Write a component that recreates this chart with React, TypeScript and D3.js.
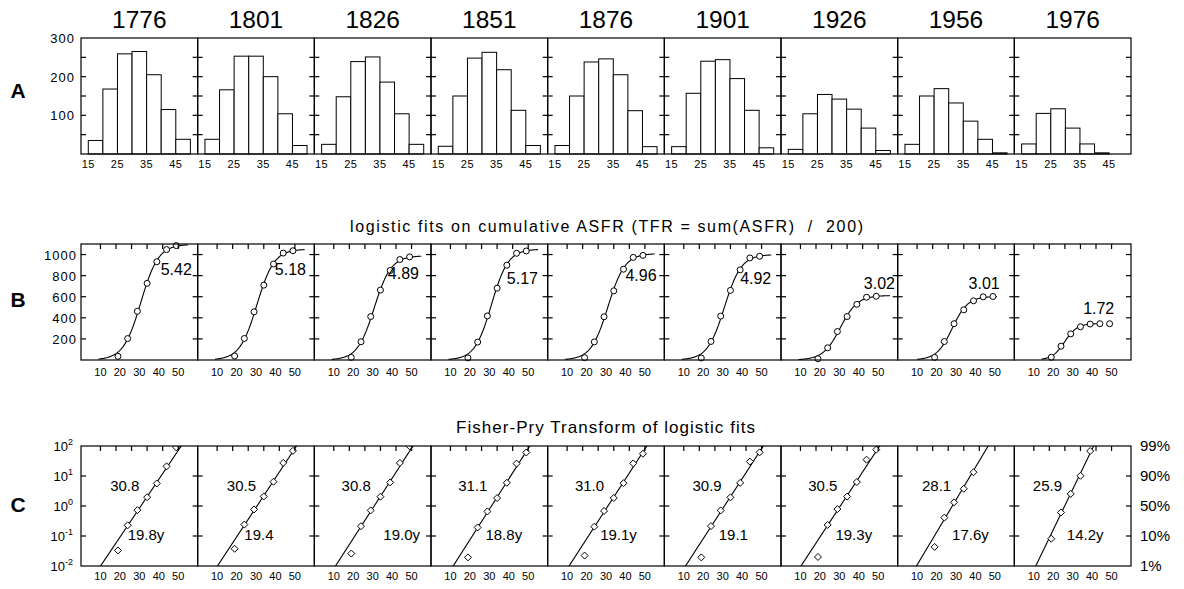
import React from 'react';
import * as d3 from 'd3';

// ---------- data ----------
const years = ['1776', '1801', '1826', '1851', '1876', '1901', '1926', '1956', '1976'];
const ageGroupStarts = [15, 20, 25, 30, 35, 40, 45];

const asfr1776 = [35, 168, 259, 265, 205, 115, 38];
const asfr1801 = [38, 166, 253, 253, 200, 104, 22];
const asfr1826 = [25, 148, 239, 251, 186, 104, 25];
const asfr1851 = [20, 150, 248, 263, 218, 113, 22];
const asfr1876 = [22, 150, 238, 246, 205, 112, 19];
const asfr1901 = [19, 157, 240, 244, 195, 113, 16];
const asfr1926 = [12, 104, 154, 142, 116, 67, 9];
const asfr1956 = [25, 150, 169, 132, 85, 38, 3];
const asfr1976 = [26, 105, 117, 67, 26, 3, 0];
const asfrByYear = [asfr1776, asfr1801, asfr1826, asfr1851, asfr1876, asfr1901, asfr1926, asfr1956, asfr1976];

const cumulativeAges = [19, 24, 29, 34, 39, 44, 49];

// logistic fit parameters
const tfrLabels = ['5.42', '5.18', '4.89', '5.17', '4.96', '4.92', '3.02', '3.01', '1.72'];
const midpoints = [30.8, 30.5, 30.8, 31.1, 31.0, 30.9, 30.5, 28.1, 25.9];
const midpointLabels = ['30.8', '30.5', '30.8', '31.1', '31.0', '30.9', '30.5', '28.1', '25.9'];
const widths = [19.8, 19.4, 19.0, 18.8, 19.1, 19.1, 19.3, 17.6, 14.2];
const widthLabels = ['19.8y', '19.4', '19.0y', '18.8y', '19.1y', '19.1', '19.3y', '17.6y', '14.2y'];
const saturations = [1097, 1051, 988, 1051, 1010, 1000, 612, 603, 346];
const fitStartAges = [9, 9, 9, 9, 9, 9, 9, 10, 14];
const fitEndAges = [55, 55, 55, 55, 55, 55, 56, 51, 44];

// annotation anchors (data units)
const tfrLabelAges = [57, 55.7, 53.8, 55, 56, 55, 58.6, 52.5, 51.4];
const tfrLabelValues = [806, 806, 768, 720, 749, 720, 673, 673, 436];
const midLabelAges = [15, 15, 14, 14, 14, 14.5, 14, 12.5, 9.5];
const widthLabelAges = [24, 24, 35.5, 28, 27, 28, 28, 28, 27];
const midLabelLog = 0.5;
const widthLabelLog = -1.12;

// axis ticks
const histXTicks = [15, 25, 35, 45];
const histYTicks = [50, 100, 150, 200, 250];
const histYLabels = [100, 200, 300];
const cumYTicks = [200, 400, 600, 800, 1000];
const ageTicks = [10, 18, 26, 34, 42, 50];
const ageLabels = [10, 20, 30, 40, 50];
const fpTicks = [-1, 0, 1];
const fpLabels = [2, 1, 0, -1, -2];
const pctLabels = ['99%', '90%', '50%', '10%', '1%'];

const titleB = 'logistic fits on cumulative ASFR (TFR = sum(ASFR)  /  200)';
const titleC = 'Fisher-Pry Transform of logistic fits';

// ---------- layout ----------
const W = 1184;
const H = 589;
const left = 81;
const right = 1131;
const rowA = { top: 38, bottom: 154 };
const rowB = { top: 244, bottom: 360 };
const rowC = { top: 446, bottom: 566 };
const font = '"Liberation Sans", Arial, Helvetica, sans-serif';
const tickLen = 5;
const LN81 = Math.log(81);

const panelX = d3.scaleBand<number>().domain(d3.range(years.length)).range([left, right]).padding(0);

export default function App() {
  const pw = panelX.bandwidth();
  const yA = d3.scaleLinear().domain([0, 300]).range([rowA.bottom, rowA.top]);
  const yB = d3.scaleLinear().domain([0, 1100]).range([rowB.bottom, rowB.top]);
  const yC = d3.scaleLinear().domain([-2, 2]).range([rowC.bottom, rowC.top]);

  const diamond = (cx: number, cy: number, r: number) =>
    `M${cx},${cy - r}L${cx + r},${cy}L${cx},${cy + r}L${cx - r},${cy}Z`;

  const panels = years.map((yr, i) => {
    const x0 = panelX(i)!;
    const x1 = x0 + pw;
    const xA = d3.scaleLinear().domain([12.5, 52.5]).range([x0, x1]);
    const xB = d3.scaleLinear().domain([0, 60]).range([x0, x1]);
    const vals = asfrByYear[i];
    const cum: number[] = Array.from(d3.cumsum(vals));
    const K = saturations[i];
    const t0 = midpoints[i];
    const dt = widths[i];
    const logistic = (t: number) => K / (1 + Math.exp((-LN81 * (t - t0)) / dt));
    const fitAges = d3.range(fitStartAges[i], fitEndAges[i] + 0.001, 0.25);
    const curve = d3
      .line<number>()
      .x((t) => xB(t))
      .y((t) => yB(logistic(t)))(fitAges);
    const fp = (t: number) => (Math.log10(81) * (t - t0)) / dt;
    const tLow = t0 - (2 * dt) / Math.log10(81);
    const tHigh = t0 + (2 * dt) / Math.log10(81);
    const fpLine = d3
      .line<number>()
      .x((t) => xB(t))
      .y((t) => yC(fp(t)))([tLow - 2, tHigh + 2]);
    const fpPoints = cumulativeAges
      .map((a, k) => {
        const F = cum[k] / K;
        if (F <= 0 || F >= 1) return null;
        const v = Math.log10(F / (1 - F));
        if (v > 2.02 || v < -2.02) return null;
        return { a, v };
      })
      .filter(Boolean) as { a: number; v: number }[];

    return (
      <g key={yr}>
        <defs>
          <clipPath id={`clipC${i}`}>
            <rect x={x0} y={rowC.top} width={pw} height={rowC.bottom - rowC.top} />
          </clipPath>
        </defs>
        {/* year title */}
        <text x={x0 + pw / 2} y={28} textAnchor="middle" fontSize={24.5} fontFamily={font}>
          {yr}
        </text>

        {/* ---- Row A: histogram ---- */}
        {vals.map((v, k) =>
          v > 0 ? (
            <rect
              key={k}
              x={xA(ageGroupStarts[k])}
              y={yA(v)}
              width={xA(ageGroupStarts[k] + 5) - xA(ageGroupStarts[k])}
              height={yA(0) - yA(v)}
              fill="#fff"
              stroke="#000"
              strokeWidth={1}
            />
          ) : null
        )}
        <rect x={x0} y={rowA.top} width={pw} height={rowA.bottom - rowA.top} fill="none" stroke="#000" strokeWidth={1.2} />
        {histYTicks.map((t) => (
          <g key={t}>
            <line x1={x0} x2={x0 + tickLen} y1={yA(t)} y2={yA(t)} stroke="#000" strokeWidth={1.2} />
            <line x1={x1} x2={x1 - tickLen} y1={yA(t)} y2={yA(t)} stroke="#000" strokeWidth={1.2} />
          </g>
        ))}
        {histXTicks.map((t) => (
          <text key={t} x={xA(t)} y={168} textAnchor="middle" fontSize={11} fontFamily={font} letterSpacing={0.5}>
            {t}
          </text>
        ))}

        {/* ---- Row B: cumulative + logistic ---- */}
        <path d={curve || ''} fill="none" stroke="#000" strokeWidth={1.1} />
        {cum.map((c, k) => (
          <circle key={k} cx={xB(cumulativeAges[k])} cy={yB(c)} r={3} fill="#fff" stroke="#000" strokeWidth={1} />
        ))}
        <rect x={x0} y={rowB.top} width={pw} height={rowB.bottom - rowB.top} fill="none" stroke="#000" strokeWidth={1.2} />
        {cumYTicks.map((t) => (
          <g key={t}>
            <line x1={x0} x2={x0 + tickLen} y1={yB(t)} y2={yB(t)} stroke="#000" strokeWidth={1.2} />
            <line x1={x1} x2={x1 - tickLen} y1={yB(t)} y2={yB(t)} stroke="#000" strokeWidth={1.2} />
          </g>
        ))}
        {ageTicks.map((t) => (
          <line key={t} x1={xB(t)} x2={xB(t)} y1={rowB.top} y2={rowB.top + tickLen} stroke="#000" strokeWidth={1.2} />
        ))}
        {ageLabels.map((t) => (
          <text key={t} x={xB(t)} y={376} textAnchor="middle" fontSize={11} fontFamily={font}>
            {t}
          </text>
        ))}
        <text x={xB(tfrLabelAges[i])} y={yB(tfrLabelValues[i])} textAnchor="end" fontSize={16} fontFamily={font}>
          {tfrLabels[i]}
        </text>

        {/* ---- Row C: Fisher-Pry ---- */}
        <g clipPath={`url(#clipC${i})`}>
          <path d={fpLine || ''} fill="none" stroke="#000" strokeWidth={1.1} />
          {fpPoints.map((p, k) => (
            <path key={k} d={diamond(xB(p.a), yC(p.v), 3.5)} fill="#fff" stroke="#000" strokeWidth={1} />
          ))}
        </g>
        <rect x={x0} y={rowC.top} width={pw} height={rowC.bottom - rowC.top} fill="none" stroke="#000" strokeWidth={1.2} />
        {fpTicks.map((t) => (
          <g key={t}>
            <line x1={x0} x2={x0 + tickLen} y1={yC(t)} y2={yC(t)} stroke="#000" strokeWidth={1.2} />
            <line x1={x1} x2={x1 - tickLen} y1={yC(t)} y2={yC(t)} stroke="#000" strokeWidth={1.2} />
          </g>
        ))}
        {ageTicks.map((t) => (
          <line key={t} x1={xB(t)} x2={xB(t)} y1={rowC.top} y2={rowC.top + tickLen} stroke="#000" strokeWidth={1.2} />
        ))}
        {ageLabels.map((t) => (
          <text key={t} x={xB(t)} y={580} textAnchor="middle" fontSize={11} fontFamily={font}>
            {t}
          </text>
        ))}
        <text x={xB(midLabelAges[i])} y={yC(midLabelLog)} fontSize={15} fontFamily={font}>
          {midpointLabels[i]}
        </text>
        <text x={xB(widthLabelAges[i])} y={yC(widthLabelLog)} fontSize={15} fontFamily={font}>
          {widthLabels[i]}
        </text>
      </g>
    );
  });

  return (
    <svg
      width={W}
      height={H}
      viewBox={`0 0 ${W} ${H}`}
      style={{ position: 'absolute', left: 0, top: 0, background: '#fff' }}
    >
      <rect x={0} y={0} width={W} height={H} fill="#fff" />
      {panels}

      {/* row letters */}
      <text x={18} y={98} textAnchor="middle" fontSize={21} fontWeight="bold" fontFamily={font}>A</text>
      <text x={18} y={307} textAnchor="middle" fontSize={21} fontWeight="bold" fontFamily={font}>B</text>
      <text x={18} y={512} textAnchor="middle" fontSize={21} fontWeight="bold" fontFamily={font}>C</text>

      {/* row A y labels */}
      {histYLabels.map((t) => (
        <text key={t} x={75} y={yA(t) + 5} textAnchor="end" fontSize={13} fontFamily={font} letterSpacing={1}>
          {t}
        </text>
      ))}

      {/* row B y labels + title */}
      {cumYTicks.map((t) => (
        <text key={t} x={77} y={yB(t) + 5} textAnchor="end" fontSize={13} fontFamily={font} letterSpacing={1}>
          {t}
        </text>
      ))}
      <text
        x={350}
        y={232}
        fontSize={16}
        fontFamily={font}
        textLength={513}
        lengthAdjust="spacing"
        style={{ whiteSpace: 'pre' }}
      >
        {titleB}
      </text>

      {/* row C labels + title */}
      {fpLabels.map((t) => (
        <text key={t} x={73} y={yC(t) + 5} textAnchor="end" fontSize={13} fontFamily={font}>
          <tspan>10</tspan>
          <tspan fontSize={9} dy={-6}>{t}</tspan>
        </text>
      ))}
      {fpLabels.map((t, k) => (
        <text key={`p${t}`} x={1140} y={yC(t) + 5} fontSize={15} fontFamily={font}>
          {pctLabels[k]}
        </text>
      ))}
      <text x={456} y={433} fontSize={17} fontFamily={font} textLength={299} lengthAdjust="spacing">
        {titleC}
      </text>
    </svg>
  );
}
